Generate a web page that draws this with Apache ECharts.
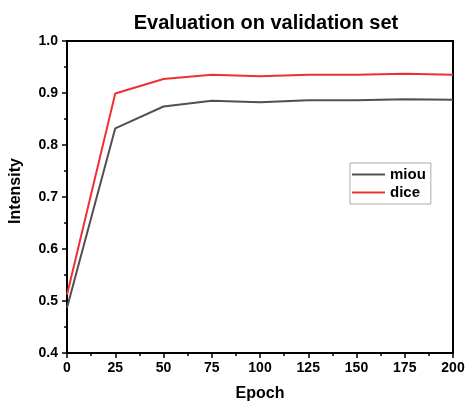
<!DOCTYPE html>
<html>
<head>
<meta charset="utf-8">
<script src="https://cdn.jsdelivr.net/npm/echarts@6/dist/echarts.min.js"></script>
<style>
  html, body { margin: 0; padding: 0; background: #fff; }
  #chart { width: 465px; height: 401px; }
</style>
</head>
<body>
<div id="chart"></div>
<script>
const epochs = [0, 25, 50, 75, 100, 125, 150, 175, 200]
const miou = [0.487, 0.832, 0.874, 0.885, 0.882, 0.886, 0.886, 0.888, 0.887]
const dice = [0.512, 0.899, 0.927, 0.935, 0.932, 0.935, 0.935, 0.937, 0.935]

const pair = (xs, ys) => xs.map((x, i) => [x, ys[i]])
const font = 'Liberation Sans, Arial, sans-serif'

const chart = echarts.init(document.getElementById('chart'))
chart.setOption({
    animation: false,
    title: {
        text: 'Evaluation on validation set',
        left: 261,
        top: 8,
        textAlign: 'center',
        textStyle: { fontFamily: font, fontSize: 20, fontWeight: 'bold', color: '#000' }
    },
    legend: {
        left: 350,
        top: 163,
        orient: 'vertical',
        itemWidth: 33,
        itemHeight: 2,
        itemGap: 3,
        padding: [4, 5, 4, 2],
        borderColor: '#aaa',
        borderWidth: 1,
        icon: 'rect',
        textStyle: { fontFamily: font, fontSize: 15, fontWeight: 'bold', color: '#000' },
        data: ['miou', 'dice']
    },
    grid: {
        left: 67,
        right: 12,
        top: 41,
        bottom: 48,
        outerBoundsMode: 'none',
        show: true,
        borderColor: '#000',
        borderWidth: 2
    },
    xAxis: {
        type: 'value',
        min: 0,
        max: 200,
        interval: 25,
        name: 'Epoch',
        nameLocation: 'middle',
        nameGap: 33,
        nameTextStyle: { fontFamily: font, fontSize: 16, fontWeight: 'bold', color: '#000' },
        axisLine: { lineStyle: { color: '#000', width: 2 } },
        axisTick: { inside: false, length: 5, lineStyle: { color: '#000', width: 1.5 } },
        minorTick: { show: true, splitNumber: 2, length: 3, lineStyle: { color: '#000', width: 1.5 } },
        axisLabel: { fontFamily: font, fontSize: 14, fontWeight: 'bold', color: '#000', margin: 8 },
        splitLine: { show: false }
    },
    yAxis: {
        type: 'value',
        min: 0.4,
        max: 1.0,
        interval: 0.1,
        name: 'Intensity',
        nameLocation: 'middle',
        nameGap: 43,
        nameTextStyle: { fontFamily: font, fontSize: 16, fontWeight: 'bold', color: '#000', padding: [0, 0, 0, 12] },
        axisLine: { show: true, lineStyle: { color: '#000', width: 2 } },
        axisTick: { show: true, inside: false, length: 5, lineStyle: { color: '#000', width: 1.5 } },
        minorTick: { show: true, splitNumber: 2, length: 3, lineStyle: { color: '#000', width: 1.5 } },
        axisLabel: {
            fontFamily: font, fontSize: 14, fontWeight: 'bold', color: '#000', margin: 9,
            formatter: v => v.toFixed(1)
        },
        splitLine: { show: false }
    },
    series: [
        {
            name: 'miou',
            type: 'line',
            data: pair(epochs, miou),
            symbol: 'none',
            color: '#505050',
            lineStyle: { width: 2, color: '#505050' }
        },
        {
            name: 'dice',
            type: 'line',
            data: pair(epochs, dice),
            symbol: 'none',
            color: '#f03030',
            lineStyle: { width: 2, color: '#f03030' }
        }
    ]
})
</script>
</body>
</html>
